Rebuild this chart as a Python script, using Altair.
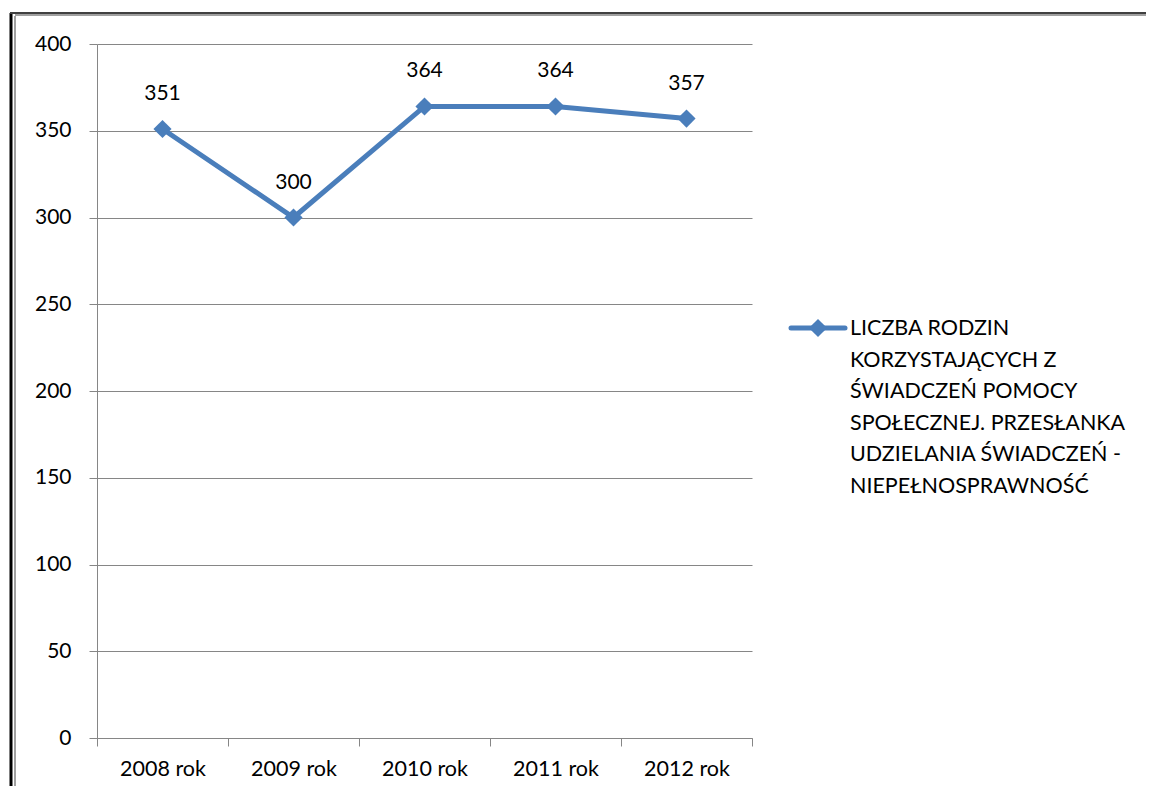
import altair as alt
import pandas as pd

years = ["2008 rok", "2009 rok", "2010 rok", "2011 rok", "2012 rok"]
values = [351, 300, 364, 364, 357]
legend_lines = ["LICZBA RODZIN", "KORZYSTAJĄCYCH Z", "ŚWIADCZEŃ POMOCY",
                "SPOŁECZNEJ. PRZESŁANKA", "UDZIELANIA ŚWIADCZEŃ -",
                "NIEPEŁNOSPRAWNOŚĆ"]
y_ticks = [0, 50, 100, 150, 200, 250, 300, 350, 400]

df = pd.DataFrame({"rok": years, "wartosc": values})
FONT = "Lato"
BLUE = "#4A7EBB"

x_enc = alt.X("rok:O", sort=years, bandPosition=0.5,
              scale=alt.Scale(type="band", paddingInner=0, paddingOuter=0),
              axis=alt.Axis(title=None, labelAngle=0, tickBand="extent",
                            domainColor="#868686", tickColor="#868686",
                            tickSize=8, labelPadding=12, labelFontSize=21.5,
                            labelFont=FONT, labelColor="#000000", grid=False))
y_enc = alt.Y("wartosc:Q", scale=alt.Scale(domain=[0, 400], nice=False),
              axis=alt.Axis(title=None, values=y_ticks, domainColor="#868686",
                            tickColor="#868686", tickSize=8, labelPadding=18,
                            labelFontSize=21, labelFont=FONT, labelColor="#000000",
                            gridColor="#868686", gridWidth=1))

base = alt.Chart(df)
line = base.mark_line(color=BLUE, strokeWidth=5).encode(x=x_enc, y=y_enc)
pts = base.mark_point(shape="diamond", filled=True, color=BLUE, size=330,
                      opacity=1).encode(x=x_enc, y=y_enc)
labels = base.mark_text(font=FONT, fontSize=21, color="#000000", dy=-35,
                        baseline="middle").encode(x=x_enc, y=y_enc,
                                                  text="wartosc:Q")

one = alt.Chart(pd.DataFrame({"a": [1]}))
leg_line = one.mark_rule(color=BLUE, strokeWidth=5, strokeCap="round").encode(
    x=alt.value(694), x2=alt.value(748), y=alt.value(284))
leg_pt = one.mark_point(shape="diamond", filled=True, color=BLUE, size=330,
                        opacity=1).encode(x=alt.value(721), y=alt.value(284))
leg_text = one.mark_text(font=FONT, fontSize=21.5, color="#000000", align="left",
                         baseline="middle", lineBreak="\n", lineHeight=31.5).encode(
    x=alt.value(753), y=alt.value(285), text=alt.value("\n".join(legend_lines)))

frame_left = one.mark_rule(color="#000000", strokeWidth=3).encode(
    x=alt.value(-86), y=alt.value(-31), y2=alt.value(760))
frame_left2 = one.mark_rule(color="#A0A0A0", strokeWidth=2).encode(
    x=alt.value(-82), y=alt.value(-28), y2=alt.value(760))
frame_top = one.mark_rule(color="#404040", strokeWidth=2).encode(
    x=alt.value(-87), x2=alt.value(1060), y=alt.value(-31))
frame_top2 = one.mark_rule(color="#A0A0A0", strokeWidth=2).encode(
    x=alt.value(-82), x2=alt.value(1060), y=alt.value(-29))

chart = alt.layer(frame_left, frame_left2, frame_top, frame_top2,
                  line, pts, labels, leg_line, leg_pt, leg_text).properties(
    width=655, height=694,
    padding={"left": 89, "top": 36, "right": 394, "bottom": 48},
    autosize=alt.AutoSizeParams(type="none"),
).configure_view(stroke=None)

chart.save("out.html", embed_options={"renderer": "svg", "actions": False})
